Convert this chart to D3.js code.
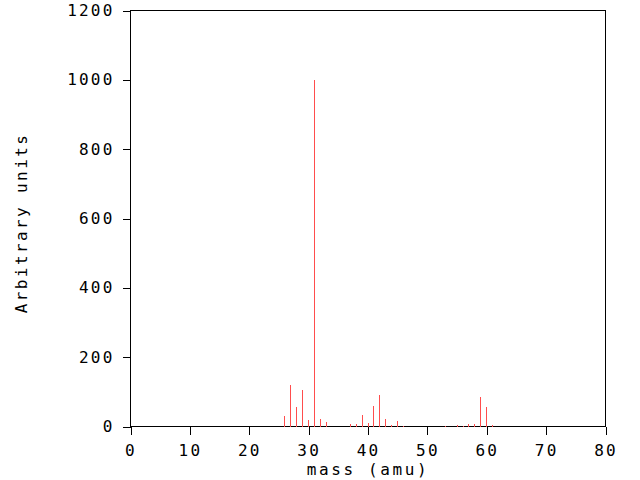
<!DOCTYPE html>
<html><head><meta charset="utf-8">
<script src="https://cdn.jsdelivr.net/npm/d3@7"></script>
<style>body{margin:0;background:#fff;} text{font-family:"DejaVu Sans Mono",monospace;}</style>
</head><body>
<svg id="c" width="640" height="480"></svg>
<script>
const masses = [26,27,28,29,30,31,32,33,37,38,39,40,41,42,43,44,45,46,53,55,56,57,58,59,60,61];
const intensities = [30,121,56,104,20,1000,23,14,7,7,33,10,58,90,21,4,16,2,1,3,2,8,8,85,56,4];
const xTicks = [0,10,20,30,40,50,60,70,80];
const yTicks = [0,200,400,600,800,1000,1200];
const xTitle = "mass (amu)";
const yTitle = "Arbitrary units";

const svg = d3.select("#c");
const L=130.5, R=605.5, T=10.5, B=426.5;
const x = d3.scaleLinear().domain([0,80]).range([L,R]);
const y = d3.scaleLinear().domain([0,1200]).range([B,T]);

svg.append("rect").attr("x",L).attr("y",T).attr("width",R-L).attr("height",B-T)
  .attr("fill","none").attr("stroke","#000").attr("stroke-width",1);

svg.append("g").selectAll("line").data(masses).join("line")
  .attr("x1",(d)=>Math.floor(x(d))+0.5).attr("x2",(d)=>Math.floor(x(d))+0.5)
  .attr("y1",B).attr("y2",(d,i)=>y(intensities[i]))
  .attr("stroke","#ff4d4d").attr("stroke-width",1).attr("shape-rendering","crispEdges");

const xAxis = d3.axisBottom(x).tickValues(xTicks).tickSize(8).tickPadding(7).tickFormat(d3.format("d"));
const gx = svg.append("g").attr("transform",`translate(0,${B})`).call(xAxis);
const yAxis = d3.axisLeft(y).tickValues(yTicks).tickSize(8).tickPadding(8).tickFormat(d3.format("d"));
const gy = svg.append("g").attr("transform",`translate(${L},0)`).call(yAxis);
[gx,gy].forEach(g=>{
  g.select(".domain").remove();
  g.selectAll(".tick line").attr("stroke","#000").attr("shape-rendering","crispEdges");
  g.selectAll(".tick text").attr("fill","#000").style("font-size","16px").style("letter-spacing","2.2px");
});
gx.selectAll(".tick text").attr("dy","0.9em");

svg.append("text").attr("x",(L+R)/2).attr("y",475).attr("text-anchor","middle")
  .style("font-size","16px").style("letter-spacing","2.6px").text(xTitle);
svg.append("text").attr("transform",`translate(27,${223}) rotate(-90)`).attr("text-anchor","middle")
  .style("font-size","16px").style("letter-spacing","2.4px").text(yTitle);
</script>
</body></html>
